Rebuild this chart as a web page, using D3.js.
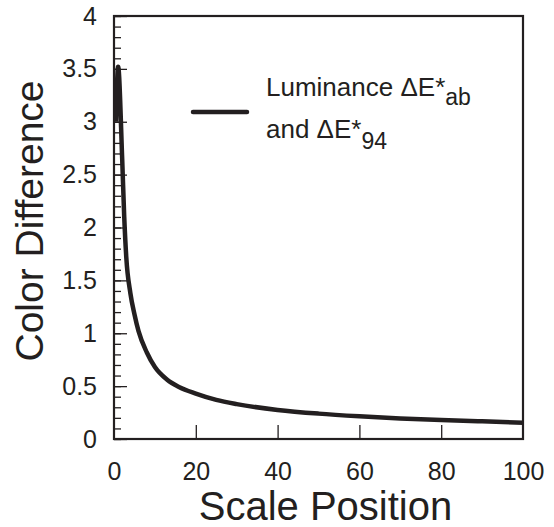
<!DOCTYPE html>
<html><head><meta charset="utf-8">
<script src="https://cdn.jsdelivr.net/npm/d3@7"></script>
<style>body{margin:0;background:#fff}svg{display:block}text{font-family:"Liberation Sans",Arial,Helvetica,sans-serif;fill:#231f20}</style>
</head><body><svg id="c" width="554" height="527"></svg>
<script>
const xValues = [0.5, 1, 2, 2.5, 3, 4, 5, 6, 8, 10, 13, 16, 20, 25, 30, 40, 50, 60, 70, 80, 90, 100];
const yValues = [3.0, 3.52, 2.65, 2.1, 1.72, 1.38, 1.18, 1.02, 0.82, 0.68, 0.56, 0.49, 0.43, 0.37, 0.33, 0.275, 0.24, 0.215, 0.195, 0.18, 0.167, 0.154];
const xTicks = [0, 20, 40, 60, 80, 100];
const yTicks = [0, 0.5, 1, 1.5, 2, 2.5, 3, 3.5, 4];
const yMinorTicks = d3.range(0, 41).map(i => i / 10);
const xLabel = "Scale Position";
const yLabel = "Color Difference";

const ink = "#231f20";
const font = '"Liberation Sans",Arial,Helvetica,sans-serif';
const svg = d3.select("#c");
const L = 114, R = 523, T = 16, B = 439;
const x = d3.scaleLinear().domain([0, 100]).range([L, R]);
const y = d3.scaleLinear().domain([0, 4]).range([B, T]);

// minor y ticks (inside)
svg.append("g").attr("transform", `translate(${L},0)`)
  .call(d3.axisRight(y).tickValues(yMinorTicks).tickSize(7).tickFormat(""))
  .call(g => g.select(".domain").remove())
  .call(g => g.selectAll("line").attr("stroke", ink).attr("stroke-width", 1.3));
// major y ticks
svg.append("g").attr("transform", `translate(${L},0)`)
  .call(d3.axisRight(y).tickValues(yTicks).tickSize(13).tickFormat(""))
  .call(g => g.select(".domain").remove())
  .call(g => g.selectAll("line").attr("stroke", ink).attr("stroke-width", 1.3));
// y labels
svg.append("g").attr("transform", `translate(${L},0)`)
  .call(d3.axisLeft(y).tickValues(yTicks).tickSize(0).tickPadding(17).tickFormat(d => d))
  .call(g => g.select(".domain").remove())
  .call(g => g.selectAll("text").attr("font-size", 25).attr("fill", ink).style("font-family", font));
// x ticks
svg.append("g").attr("transform", `translate(0,${B})`)
  .call(d3.axisTop(x).tickValues(xTicks.filter(d => d > 0 && d < 100)).tickSize(14).tickFormat(""))
  .call(g => g.select(".domain").remove())
  .call(g => g.selectAll("line").attr("stroke", ink).attr("stroke-width", 1.3));
svg.append("g").attr("transform", `translate(0,${B})`)
  .call(d3.axisBottom(x).tickValues(xTicks).tickSize(0).tickPadding(23).tickFormat(d => d))
  .call(g => g.select(".domain").remove())
  .call(g => g.selectAll("text").attr("font-size", 25).attr("fill", ink).style("font-family", font));

// frame
svg.append("rect").attr("x", L).attr("y", T).attr("width", R - L).attr("height", B - T)
  .attr("fill", "none").attr("stroke", ink).attr("stroke-width", 2.2);

// curve
const data = xValues.map((d, i) => [d, yValues[i]]);
svg.append("path").datum(data)
  .attr("d", d3.line().x(d => x(d[0])).y(d => y(d[1])).curve(d3.curveMonotoneX))
  .attr("fill", "none").attr("stroke", ink).attr("stroke-width", 4.5).attr("stroke-linejoin", "round");

// legend
svg.append("line").attr("x1", 193).attr("x2", 247).attr("y1", 112).attr("y2", 112)
  .attr("stroke", ink).attr("stroke-width", 4.5).attr("stroke-linecap", "round");
const t1 = svg.append("text").attr("x", 266).attr("y", 96).attr("font-size", 26);
t1.append("tspan").text("Luminance \u0394E*");
t1.append("tspan").attr("dy", 9).attr("font-size", 23).text("ab");
const t2 = svg.append("text").attr("x", 266).attr("y", 138).attr("font-size", 26);
t2.append("tspan").text("and \u0394E*");
t2.append("tspan").attr("dy", 11).attr("font-size", 23).text("94");

// axis titles
svg.append("text").attr("x", (L + R) / 2 + 7).attr("y", 520).attr("text-anchor", "middle")
  .attr("font-size", 40).text(xLabel);
svg.append("text").attr("transform", "translate(43,221) rotate(-90)").attr("text-anchor", "middle")
  .attr("font-size", 39).text(yLabel);
</script></body></html>
